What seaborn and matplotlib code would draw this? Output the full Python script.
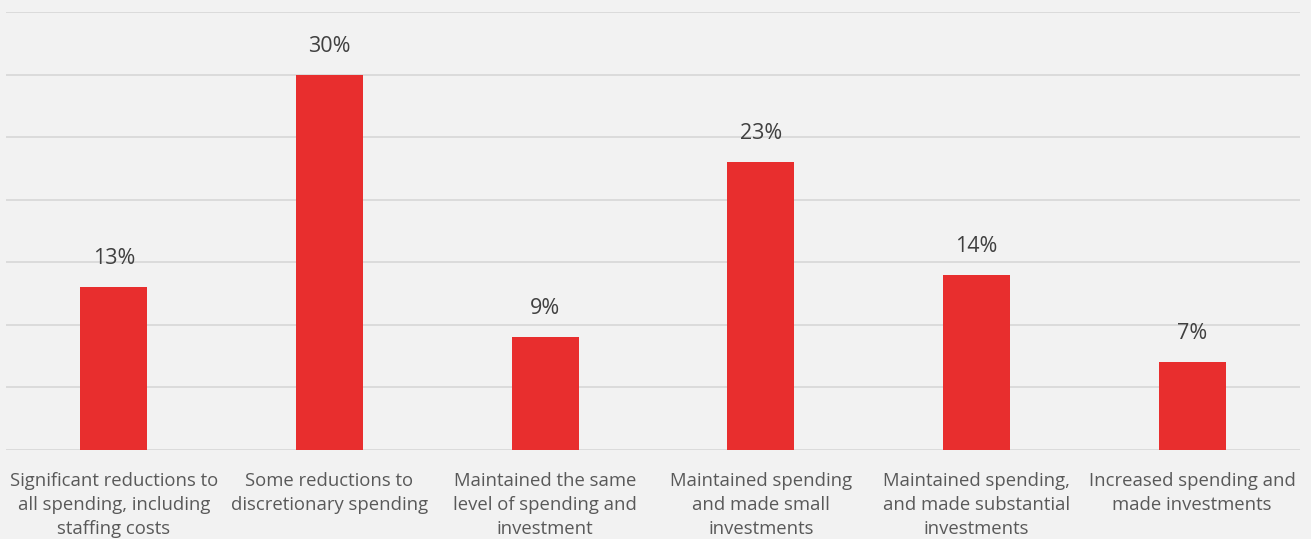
import matplotlib
matplotlib.use("Agg")
import matplotlib.pyplot as plt
import seaborn as sns
import pandas as pd

categories = [
    "Significant reductions to\nall spending, including\nstaffing costs",
    "Some reductions to\ndiscretionary spending",
    "Maintained the same\nlevel of spending and\ninvestment",
    "Maintained spending\nand made small\ninvestments",
    "Maintained spending,\nand made substantial\ninvestments",
    "Increased spending and\nmade investments",
]
values = [13, 30, 9, 23, 14, 7]

df = pd.DataFrame({"category": categories, "value": values})

sns.set_theme(style="whitegrid")
plt.rcParams["font.family"] = ["Open Sans", "DejaVu Sans"]

bg = "#F2F2F2"
fig = plt.figure(figsize=(13.11, 5.39), dpi=100, facecolor=bg)
ax = fig.add_axes([6 / 1311, 1 - 450 / 539, 1294 / 1311, 438 / 539])
ax.set_facecolor(bg)

sns.barplot(data=df, x="category", y="value", color="#E82E2E", width=0.31,
            saturation=1, linewidth=0, ax=ax, zorder=3)

ax.set_ylim(0, 35)
ax.set_yticks(range(0, 36, 5))
ax.set_xlim(-0.5, len(categories) - 0.5)
ax.yaxis.grid(True, color="#D9D9D9", linewidth=1.3)
ax.xaxis.grid(False)
ax.set_yticklabels([])
ax.tick_params(axis="y", length=0)
ax.tick_params(axis="x", length=0, pad=16, labelsize=13.3, labelcolor="#595959")
for lbl in ax.get_xticklabels():
    lbl.set_linespacing(1.42)
ax.set_xlabel("")
ax.set_ylabel("")
for s in ax.spines.values():
    s.set_visible(False)

for i, v in enumerate(values):
    ax.annotate(f"{v}%", xy=(i, v), xytext=(0, 13), textcoords="offset points",
                ha="center", va="bottom", fontsize=15.5, color="#404040")

fig.savefig("out.png", dpi=100, facecolor=bg)
